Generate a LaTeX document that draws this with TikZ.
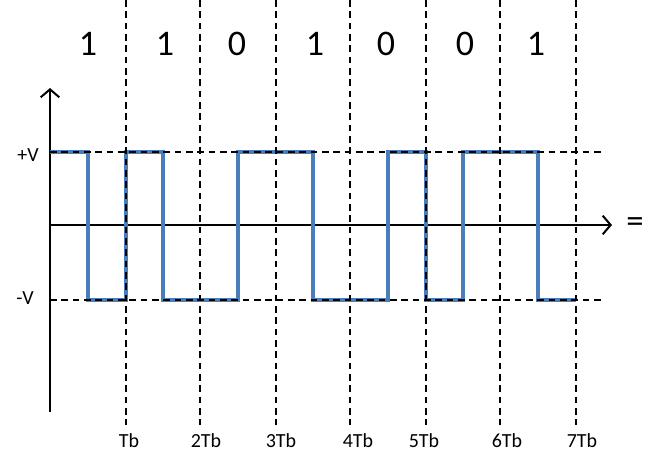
\documentclass[tikz,border=0pt]{standalone}
\usepackage{fontspec}
\setmainfont{Carlito}
\usepackage{xcolor}
\usetikzlibrary{arrows.meta}
\definecolor{sigblue}{RGB}{74,126,187}

\begin{document}
\begin{tikzpicture}[
  x=0.75pt, y=-0.75pt,
  grid/.style={draw=black, line width=1.8pt, dash pattern=on 5pt off 3.5pt},
  axis/.style={draw=black, line width=1.5pt, -{Straight Barb[length=6pt,width=14pt]}},
  sig/.style={draw=sigblue, line width=2.4pt},
  bit/.style={font=\fontsize{27}{30}\selectfont, inner sep=0pt},
  tick/.style={font=\fontsize{15}{17}\selectfont, inner sep=0pt},
  lvl/.style={font=\fontsize{15}{17}\selectfont, inner sep=0pt}
]
\useasboundingbox (0,0) rectangle (668,464);

% axes
\coordinate (ybot) at (50,412);
\coordinate (ytop) at (50,88);
\coordinate (orig) at (50,225);
\coordinate (xend) at (612,225);
\draw[axis] (ybot) -- (ytop);
\draw[axis] (orig) -- (xend);
\node at (635,225) (eq) {\fontsize{26}{28}\selectfont =};

% manchester signal
\draw[sig] (50,152) -- (88,152) -- (88,300) -- (126,300) -- (126,152)
  -- (163,152) -- (163,300) -- (238,300) -- (238,152) -- (313,152)
  -- (313,300) -- (388,300) -- (388,152) -- (426,152) -- (426,300)
  -- (463,300) -- (463,152) -- (538,152) -- (538,300) -- (576,300);

% bit boundaries and levels
\draw[grid] (126,0) -- (126,425);
\draw[grid] (200,0) -- (200,425);
\draw[grid] (276,0) -- (276,425);
\draw[grid] (350,0) -- (350,425);
\draw[grid] (426,0) -- (426,425);
\draw[grid] (500,0) -- (500,425);
\draw[grid] (576,0) -- (576,425);
\draw[grid] (50,152) -- (601,152);
\draw[grid] (50,300) -- (601,300);

% bits
\node[bit] (b1) at (88,44)  {1};
\node[bit] (b2) at (165,44) {1};
\node[bit] (b3) at (237,44) {0};
\node[bit] (b4) at (315,44) {1};
\node[bit] (b5) at (386,44) {0};
\node[bit] (b6) at (465,44) {0};
\node[bit] (b7) at (536,44) {1};

% levels
\node[lvl] (vp) at (28,155) {+V};
\node[lvl] (vm) at (25,298) {-V};

% time marks
\node[tick] (t1) at (129,441) {Tb};
\node[tick] (t2) at (206,441) {2Tb};
\node[tick] (t3) at (281,441) {3Tb};
\node[tick] (t4) at (358,441) {4Tb};
\node[tick] (t5) at (424,441) {5Tb};
\node[tick] (t6) at (507,441) {6Tb};
\node[tick] (t7) at (582,441) {7Tb};
\end{tikzpicture}
\end{document}
